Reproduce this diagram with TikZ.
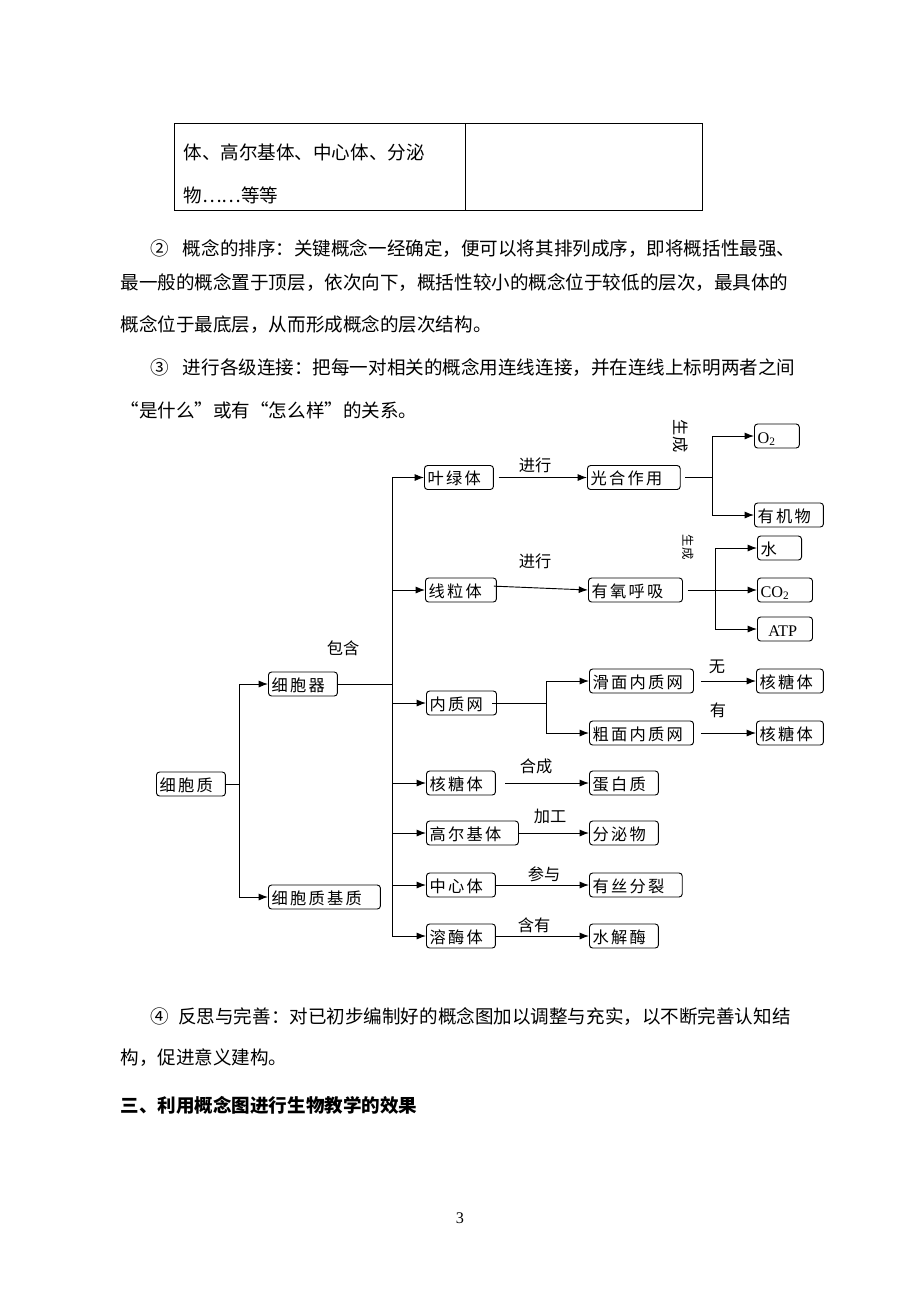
\documentclass[tikz,border=0pt]{standalone}
\usepackage{fontspec}
\setmainfont{Noto Sans CJK SC}
\newfontfamily\westfont{Liberation Serif}
\usepackage{tikz}
\usetikzlibrary{arrows.meta,positioning}

\tikzset{
	>={Latex[length=6pt,width=4.5pt]},
	every edge/.style={draw, line width=0.6pt},
}

\begin{document}
\begin{tikzpicture}
	[x=0.6467pt, y=-0.6467pt, line width=0.6pt,
		% STYLES
		% The body style is used for the running text of the page
		body/.style={anchor=west, inner sep=0pt, font=\fontsize{12}{14}\selectfont},
		% The concept style is used to draw the boxes of the map
		concept/.style={draw, rounded corners=2pt, anchor=west, inner xsep=2pt,
				inner ysep=0pt, minimum height=15.5pt, text width=#1, align=left,
				text height=9.5pt, text depth=0pt,
				font=\fontsize{10.5}{12}\selectfont\addfontfeature{LetterSpace=14}},
		concept/.default=40.6pt,
		% The link style is used to write the words on the connectors
		link/.style={inner sep=0pt, font=\fontsize{10.5}{12}\selectfont}]

	\useasboundingbox (0,0) rectangle (920,1302);

	% Table on top of the page
	\draw (174,123) rectangle (702,210);
	\draw (465,123) -- (465,210);
	\node[body] (t1) at (183,152) {体、高尔基体、中心体、分泌};
	\node[body] (t2) at (183,195) {物……等等};

	% Running text
	\node[body] (p1) at (150,249) {②\hspace{9pt}概念的排序：关键概念一经确定，便可以将其排列成序，即将概括性最强、};
	\node[body] (p2) at (120,283) {最一般的概念置于顶层，依次向下，概括性较小的概念位于较低的层次，最具体的};
	\node[body] (p3) at (120,325) {概念位于最底层，从而形成概念的层次结构。};
	\node[body] (p4) at (150,368) {③\hspace{9pt}进行各级连接：把每一对相关的概念用连线连接，并在连线上标明两者之间};
	\node[body] (p5) at (120,410) {“是什么”或有“怎么样”的关系。};

	%%%%%%%%%%%%%%%
	% Draw concepts
	\node[concept] (zhi) at (156,784) {细胞质};
	\node[concept] (qi) at (268,684) {细胞器};
	\node[concept=68.4pt] (jizhi) at (268,897) {细胞质基质};

	\node[concept] (ylt) at (424,477.5) {叶绿体};
	\node[concept=56pt] (gh) at (587,477.5) {光合作用};
	\node[concept=25pt] (o2) at (754,436) {\westfont O\textsubscript{2}};
	\node[concept] (yjw) at (754,515) {有机物};

	\node[concept=41.9pt] (xlt) at (425,590) {线粒体};
	\node[concept=56.8pt] (yy) at (588,590) {有氧呼吸};
	\node[concept=24.5pt] (shui) at (757,548) {水};
	\node[concept=31.6pt] (co2) at (757,590) {\westfont CO\textsubscript{2}};
	\node[concept=31.6pt] (atp) at (757,629) {\westfont\hspace{5pt}ATP};

	\node[concept=41.3pt] (nzw) at (426,703) {内质网};
	\node[concept=63.3pt] (hm) at (589,681) {滑面内质网};
	\node[concept=63.3pt] (cm) at (589,733) {粗面内质网};
	\node[concept=39.3pt] (ht1) at (756,681) {核糖体};
	\node[concept=39.3pt] (ht2) at (756,733) {核糖体};

	\node[concept] (htt) at (426,783) {核糖体};
	\node[concept] (dbz) at (589,783) {蛋白质};
	\node[concept=55.5pt] (gej) at (426,833) {高尔基体};
	\node[concept] (fmw) at (589,833) {分泌物};
	\node[concept] (zxt) at (426,885) {中心体};
	\node[concept=56pt] (ysfl) at (589,885) {有丝分裂};
	\node[concept] (rmt) at (426,936) {溶酶体};
	\node[concept] (sjm) at (589,936) {水解酶};

	% Branch points
	\coordinate (k1) at (239,784);
	\coordinate (k2) at (392,684);
	\coordinate (k3) at (712,477.5);
	\coordinate (k4) at (715,590);
	\coordinate (k5) at (546,703);

	% Links
	\draw[->] (zhi.east) -- (zhi.east -| k1) |- (qi.west);
	\draw[->] (zhi.east -| k1) |- (jizhi.west);

	\draw (qi.east) -- (qi.east -| k2);
	\draw (k2 |- ylt.west) -- (k2 |- rmt.west);
	\foreach \n in {ylt,xlt,nzw,htt,gej,zxt,rmt}
		\draw[->] (k2 |- \n.west) -- (\n.west);

	\draw[->] ([xshift=3pt]ylt.east) -- (gh.west);
	\draw ([xshift=3pt]gh.east) -- (gh.east -| k3);
	\draw[->] (gh.east -| k3) |- (o2.west);
	\draw[->] (gh.east -| k3) |- (yjw.west);

	\draw[->] ([shift={(-2pt,2.5pt)}]xlt.east) -- (yy.west);
	\draw[->] ([xshift=3pt]yy.east) -- (co2.west);
	\draw[->] (yy.east -| k4) |- (shui.west);
	\draw[->] (yy.east -| k4) |- (atp.west);

	\draw ([xshift=-3pt]nzw.east) -- (nzw.east -| k5);
	\draw[->] (nzw.east -| k5) |- (hm.west);
	\draw[->] (nzw.east -| k5) |- (cm.west);
	\draw[->] ([xshift=4.5pt]hm.east) -- (ht1.west);
	\draw[->] ([xshift=4.5pt]cm.east) -- (ht2.west);

	\draw[->] ([xshift=6pt]htt.east) -- (dbz.west);
	\draw[->] (gej.east) -- (fmw.west);
	\draw[->] (zxt.east) -- (ysfl.west);
	\draw[->] (rmt.east) -- (sjm.west);

	% Link words
	\node[link] (w1) at (343,648) {包含};
	\node[link] (w2) at (535,465) {进行};
	\node[link] (w3) at (535,561) {进行};
	\node[link, rotate=-90] (w4) at (681,436) {生成};
	\node[link, rotate=-90, font=\fontsize{8}{9}\selectfont] (w5) at (688,547) {生成};
	\node[link] (w6) at (717,667) {无};
	\node[link] (w7) at (718,710) {有};
	\node[link] (w8) at (536,766) {合成};
	\node[link] (w9) at (550,816) {加工};
	\node[link] (w10) at (544,874) {参与};
	\node[link] (w11) at (534,925) {含有};

	% Text after the map
	\node[body] (p6) at (150,1017) {④\hspace{6pt}反思与完善：对已初步编制好的概念图加以调整与充实，以不断完善认知结};
	\node[body] (p7) at (120,1058) {构，促进意义建构。};
	\node[body, font=\fontsize{12}{14}\selectfont\bfseries] (h1) at (120,1105) {三、利用概念图进行生物教学的效果};
	\node[inner sep=0pt, font=\westfont\fontsize{10.5}{12}\selectfont] (pg) at (460,1218) {3};
\end{tikzpicture}
\end{document}
